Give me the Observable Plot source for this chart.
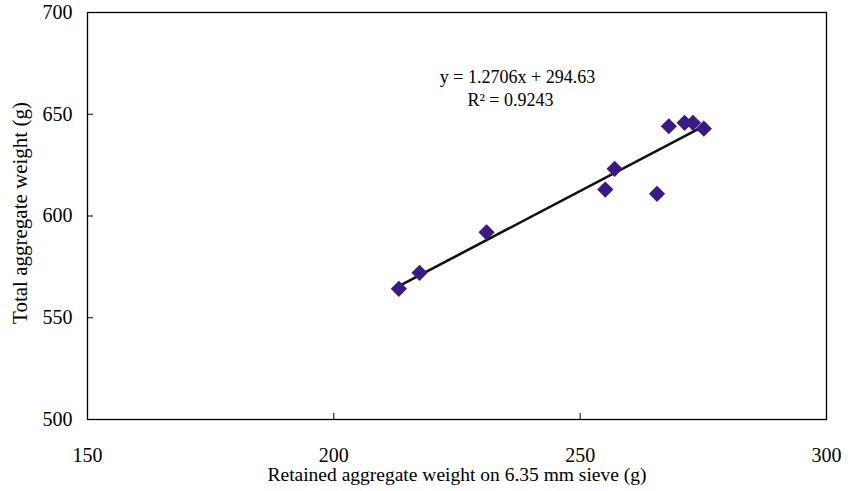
<!DOCTYPE html>
<html><head><meta charset="utf-8">
<script src="https://cdn.jsdelivr.net/npm/d3@7"></script>
<script src="https://cdn.jsdelivr.net/npm/@observablehq/plot@0.6"></script>
<style>
html,body{margin:0;padding:0;background:#fff}
#chart svg{display:block}
</style>
</head><body><div id="chart"></div>
<script>
// Data
const retained = [213.2, 217.4, 231.0, 255.1, 257.0, 265.6, 268.0, 271.2, 272.9, 275.1];
const total    = [564.2, 572.1, 592.0, 613.0, 623.2, 610.9, 644.1, 645.8, 645.8, 642.9];
const xTicks = [150, 200, 250, 300];
const yTicks = [500, 550, 600, 650, 700];
const slope = 1.2706;
const intercept = 294.63;
const rSquared = 0.9243;
const equationText = "y = 1.2706x + 294.63";
const r2Text = "R\u00B2 = 0.9243";
const xLabel = "Retained aggregate weight on 6.35 mm sieve (g)";
const yLabel = "Total aggregate weight (g)";

const points = retained.map((x, i) => ({x, y: total[i]}));
const xExtent = d3.extent(retained);
const trend = xExtent.map(x => ({x, y: slope * x + intercept}));

const font = "'Liberation Serif', 'Times New Roman', serif";

const chart = Plot.plot({
  width: 848,
  height: 491,
  marginLeft: 87,
  marginRight: 22,
  marginTop: 12,
  marginBottom: 72,
  style: {fontFamily: font, fontSize: "20px", color: "#000", background: "#fff"},
  x: {domain: [150, 300]},
  y: {domain: [500, 700]},
  marks: [
    Plot.frame({stroke: "#000", strokeWidth: 1.3}),
    Plot.axisX({ticks: xTicks, tickSize: -6, tickPadding: 34, fontSize: 20, label: null}),
    Plot.axisY({ticks: yTicks, tickSize: -6, tickPadding: 21, fontSize: 20, label: null}),
    Plot.text([xLabel], {frameAnchor: "bottom", dy: 55, text: d => d, fontSize: 19.5,
      lineAnchor: "middle", textAnchor: "middle", fill: "#000"}),
    Plot.text([yLabel], {frameAnchor: "left", dx: -67, dy: -3, rotate: -90, text: d => d, fontSize: 21,
      lineAnchor: "middle", textAnchor: "middle", fill: "#000"}),
    Plot.line(trend, {x: "x", y: "y", stroke: "#111", strokeWidth: 2.6}),
    Plot.dot(points, {x: "x", y: "y", symbol: "diamond2", r: 7.3, fill: "#3b1b80", stroke: "none"}),
    Plot.text([equationText], {frameAnchor: "top-left", dx: 430, dy: 65,
      text: d => d, fontSize: 18, lineAnchor: "middle", textAnchor: "middle", fill: "#000"}),
    Plot.text([r2Text], {frameAnchor: "top-left", dx: 423, dy: 88,
      text: d => d, fontSize: 18, lineAnchor: "middle", textAnchor: "middle", fill: "#000"})
  ]
});
document.getElementById("chart").appendChild(chart);
</script>
</body></html>
